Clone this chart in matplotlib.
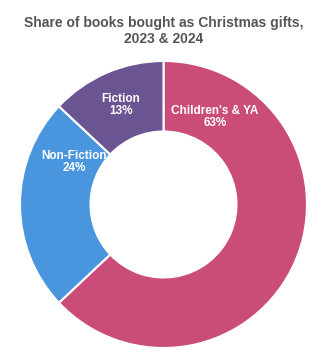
import matplotlib
matplotlib.use("Agg")
import matplotlib.pyplot as plt

categories = ["Children's & YA", "Non-Fiction", "Fiction"]
shares = [63, 24, 13]
colors = ["#CA4D79", "#4A96DE", "#6A5592"]

plt.rcParams['font.family'] = ['Liberation Sans', 'DejaVu Sans']

W, H = 328, 362
fig = plt.figure(figsize=(W / 100, H / 100), dpi=100)
ax = fig.add_axes([0.0, 0.0, 1.0, 1.0])
ax.axis('off')

cx, cy, r = 163.5, H - 204.5, 143.5
ax.pie(shares, colors=colors, startangle=90, counterclock=False,
       radius=r, center=(cx, cy),
       wedgeprops=dict(width=r - 73, edgecolor='white', linewidth=1.5))
ax.set_xlim(0, W)
ax.set_ylim(0, H)
ax.set_aspect('equal')

label_pos = [(215, 117), (74, 162), (121, 105)]
for name, val, (x, y) in zip(categories, shares, label_pos):
    ax.text(x, H - y, f"{name}\n{val}%", ha='center', va='center', color='white',
            fontsize=8.5, fontweight='bold', linespacing=1.0)

fig.text(0.5, 0.955, "Share of books bought as Christmas gifts,\n2023 & 2024",
         ha='center', va='top', fontsize=10, fontweight='bold', color='#555555',
         linespacing=1.15)

fig.savefig("out.png", dpi=100)
